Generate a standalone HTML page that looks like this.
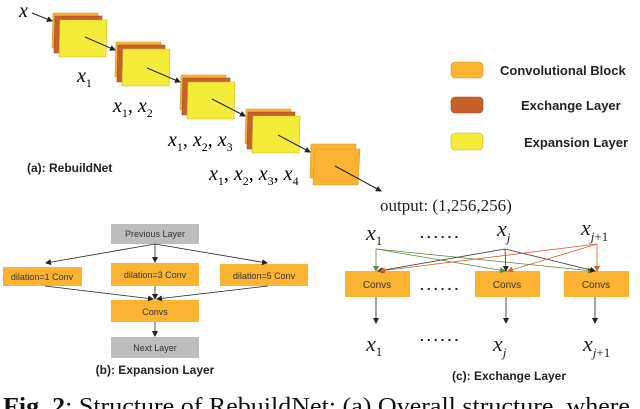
<!DOCTYPE html>
<html><head><style>
body{margin:0;background:#fff;}
svg{display:block;}
.s{font-family:"Liberation Serif",serif;font-style:italic;}
.b{font-family:"Liberation Sans",sans-serif;font-weight:bold;fill:#222;}
.t{font-family:"Liberation Sans",sans-serif;fill:#333;}
</style></head><body>
<svg width="640" height="409" viewBox="0 0 640 409" xmlns="http://www.w3.org/2000/svg">
<defs>
<marker id="a" markerWidth="6" markerHeight="6" refX="5" refY="3" orient="auto" markerUnits="userSpaceOnUse"><path d="M0,0 L6,3 L0,6 z" fill="#222"/></marker>
<marker id="ag" markerWidth="6" markerHeight="6" refX="5" refY="3" orient="auto" markerUnits="userSpaceOnUse"><path d="M0,0 L6,3 L0,6 z" fill="#5a8a3a"/></marker>
<marker id="ao" markerWidth="6" markerHeight="6" refX="5" refY="3" orient="auto" markerUnits="userSpaceOnUse"><path d="M0,0 L6,3 L0,6 z" fill="#d8602a"/></marker>
<g id="blk">
<polygon points="1,0 46,0 45,35 0,35" fill="#fbb331" stroke="#d9962a" stroke-width="0.6"/>
<polygon points="3,3 50,3 49,40 2,40" fill="#c8602a" stroke="#a04d20" stroke-width="0.6"/>
<polygon points="8,7 55,7 54,44 7,44" fill="#f5ec3a" stroke="#bfb830" stroke-width="0.6"/>
</g>
</defs>
<use href="#blk" x="52" y="13"/>
<use href="#blk" x="115" y="42"/>
<use href="#blk" x="180" y="75"/>
<use href="#blk" x="245" y="109"/>
<polygon points="311,144 356,144 355,178 310,178" fill="#fbb331" stroke="#d9962a" stroke-width="0.6"/>
<polygon points="315,149 360,149 358,185 313,185" fill="#fbb331" stroke="#d9962a" stroke-width="0.6"/>
<g stroke="#222" stroke-width="1" fill="none" marker-end="url(#a)">
<line x1="32" y1="13" x2="52" y2="21"/>
<line x1="85" y1="37" x2="115" y2="50"/>
<line x1="147" y1="68" x2="180" y2="82"/>
<line x1="212" y1="99" x2="245" y2="116"/>
<line x1="278" y1="135" x2="310" y2="152"/>
<line x1="335" y1="166" x2="381" y2="191"/>
</g>
<text class="s" x="19" y="17" font-size="20">x</text>
<text class="s" x="77" y="82" font-size="20">x<tspan font-size="12" dy="5" font-style="normal">1</tspan></text>
<text class="s" x="113" y="112" font-size="20">x<tspan font-size="12" dy="5" font-style="normal">1</tspan><tspan dy="-5" font-style="normal">, </tspan>x<tspan font-size="12" dy="5" font-style="normal">2</tspan></text>
<text class="s" x="168" y="146" font-size="20">x<tspan font-size="12" dy="5" font-style="normal">1</tspan><tspan dy="-5" font-style="normal">, </tspan>x<tspan font-size="12" dy="5" font-style="normal">2</tspan><tspan dy="-5" font-style="normal">, </tspan>x<tspan font-size="12" dy="5" font-style="normal">3</tspan></text>
<text class="s" x="209" y="180" font-size="20">x<tspan font-size="12" dy="5" font-style="normal">1</tspan><tspan dy="-5" font-style="normal">, </tspan>x<tspan font-size="12" dy="5" font-style="normal">2</tspan><tspan dy="-5" font-style="normal">, </tspan>x<tspan font-size="12" dy="5" font-style="normal">3</tspan><tspan dy="-5" font-style="normal">, </tspan>x<tspan font-size="12" dy="5" font-style="normal">4</tspan></text>
<text class="b" x="27" y="172" font-size="12">(a): RebuildNet</text>
<text x="380" y="211" font-family="Liberation Serif,serif" font-size="17" fill="#222">output: (1,256,256)</text>
<rect x="451" y="62" width="32" height="16" rx="4" fill="#fbb331" stroke="#d9962a" stroke-width="0.6"/>
<rect x="451" y="97" width="32" height="16" rx="4" fill="#c8602a" stroke="#a04d20" stroke-width="0.6"/>
<rect x="451" y="133" width="32" height="17" rx="4" fill="#f5ec3a" stroke="#bfb830" stroke-width="0.6"/>
<text class="b" x="500" y="75" font-size="13">Convolutional Block</text>
<text class="b" x="521" y="110" font-size="13">Exchange Layer</text>
<text class="b" x="524" y="147" font-size="13">Expansion Layer</text>
<!-- (b) -->
<rect x="111" y="224" width="88" height="20" fill="#bdbdbd"/>
<rect x="3" y="267" width="79" height="19" fill="#fbb331"/>
<rect x="111" y="263" width="88" height="23" fill="#fbb331"/>
<rect x="220" y="264" width="88" height="22" fill="#fbb331"/>
<rect x="111" y="300" width="88" height="22" fill="#fbb331"/>
<rect x="111" y="337" width="88" height="21" fill="#bdbdbd"/>
<g class="t" font-size="9" text-anchor="middle">
<text x="155" y="237">Previous Layer</text>
<text x="42" y="280">dilation=1 Conv</text>
<text x="155" y="278">dilation=3 Conv</text>
<text x="264" y="279">dilation=5 Conv</text>
<text x="155" y="315">Convs</text>
<text x="155" y="351">Next Layer</text>
</g>
<g stroke="#222" stroke-width="0.8" fill="none" marker-end="url(#a)">
<line x1="155" y1="244" x2="46" y2="263"/>
<line x1="155" y1="244" x2="155" y2="262"/>
<line x1="155" y1="244" x2="267" y2="263"/>
<line x1="45" y1="286" x2="153" y2="299"/>
<line x1="155" y1="286" x2="155" y2="299"/>
<line x1="268" y1="286" x2="157" y2="299"/>
<line x1="155" y1="322" x2="155" y2="336"/>
</g>
<text class="b" x="155" y="374" font-size="12" text-anchor="middle">(b): Expansion Layer</text>
<!-- (c) -->
<rect x="345" y="271" width="65" height="26" fill="#fbb331"/>
<rect x="475" y="271" width="65" height="26" fill="#fbb331"/>
<rect x="564" y="271" width="65" height="26" fill="#fbb331"/>
<g class="t" font-size="10" text-anchor="middle"><text x="377" y="288">Convs</text><text x="507" y="288">Convs</text><text x="596" y="288">Convs</text></g>
<g stroke="#5a8a3a" stroke-width="0.8" fill="none" marker-end="url(#ag)">
<polyline points="376,249 376,271"/>
<polyline points="376,249 505,271"/>
<polyline points="376,249 593,271"/>
</g>
<g stroke="#333" stroke-width="0.8" fill="none" marker-end="url(#a)">
<polyline points="505,249 378,271"/>
<polyline points="505,249 506,271"/>
<polyline points="505,249 595,271"/>
</g>
<g stroke="#d8602a" stroke-width="0.8" fill="none" marker-end="url(#ao)">
<polyline points="597,244 380,271"/>
<polyline points="597,244 508,271"/>
<polyline points="597,244 597,271"/>
</g>
<g stroke="#222" stroke-width="0.8" marker-end="url(#a)">
<line x1="376" y1="297" x2="376" y2="323"/>
<line x1="506" y1="297" x2="506" y2="323"/>
<line x1="595" y1="297" x2="595" y2="323"/>
</g>
<g class="s" font-size="22" fill="#222">
<text x="366" y="240">x<tspan font-size="13" dy="5" font-style="normal">1</tspan></text>
<text x="497" y="236">x<tspan font-size="13" dy="6">j</tspan></text>
<text x="581" y="235">x<tspan font-size="13" dy="6">j</tspan><tspan font-size="13" font-style="normal">+1</tspan></text>
<text x="366" y="351">x<tspan font-size="13" dy="5" font-style="normal">1</tspan></text>
<text x="493" y="351">x<tspan font-size="13" dy="6">j</tspan></text>
<text x="583" y="351">x<tspan font-size="13" dy="6">j</tspan><tspan font-size="13" font-style="normal">+1</tspan></text>
</g>
<g font-family="Liberation Sans,sans-serif" font-size="14" fill="#222" font-weight="bold" letter-spacing="3">
<text x="420" y="238">......</text><text x="420" y="290">......</text><text x="420" y="341">......</text>
</g>
<text class="b" x="509" y="380" font-size="12" text-anchor="middle">(c): Exchange Layer</text>
<text x="3" y="414" font-family="Liberation Serif,serif" font-size="24" fill="#111" textLength="627" lengthAdjust="spacingAndGlyphs"><tspan font-weight="bold">Fig. 2</tspan>: Structure of RebuildNet: (a) Overall structure, where</text>
</svg>
</body></html>
